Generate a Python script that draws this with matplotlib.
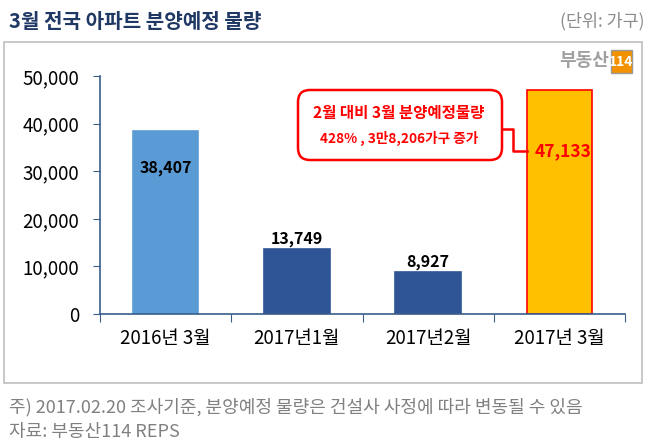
import matplotlib
matplotlib.use("Agg")
import matplotlib.pyplot as plt
from matplotlib.patches import Rectangle, FancyBboxPatch
from matplotlib.lines import Line2D
from matplotlib.transforms import IdentityTransform

plt.rcParams['font.family'] = ['Noto Sans CJK KR', 'DejaVu Sans']

categories = ["2016년 3월", "2017년1월", "2017년2월", "2017년 3월"]
values = [38407, 13749, 8927, 47133]
bar_colors = ["#5B9BD5", "#2F5597", "#2F5597", "#FFC000"]
edge_colors = ["#5B9BD5", "#2F5597", "#2F5597", "#FF0000"]
yticks = [0, 10000, 20000, 30000, 40000, 50000]

W, H = 658, 443
fig = plt.figure(figsize=(W / 100, H / 100), dpi=100)
fig.patch.set_facecolor("white")

def fx(x):
    return x / W

def fy(y):
    return 1 - y / H

# outer frame
fig.add_artist(Rectangle((fx(4), fy(383)), fx(642) - fx(4), fy(42) - fy(383),
                         transform=fig.transFigure, fill=False,
                         edgecolor="#BFBFBF", lw=1.2))

ax = fig.add_axes([fx(100), fy(314), fx(625) - fx(100), fy(76) - fy(314)])
x = list(range(len(categories)))
bars = ax.bar(x, values, width=0.5, color=bar_colors, edgecolor=edge_colors, linewidth=1.2)
ax.set_xlim(-0.5, len(categories) - 0.5)
ax.set_ylim(0, 50000)
ax.set_yticks(yticks)
ax.set_yticklabels([f"{v:,}" for v in yticks], fontsize=13.5)
ax.set_xticks([i - 0.5 for i in range(len(categories) + 1)])
ax.set_xticklabels([])
ax.set_xticks(x, minor=True)
ax.set_xticklabels(categories, minor=True, fontsize=13.5)
ax.tick_params(axis="x", which="minor", length=0, pad=10)
ax.tick_params(axis="x", which="major", length=6, color="#385D8A", direction="out")
ax.tick_params(axis="y", length=5, color="#385D8A", pad=10)
for s in ["top", "right"]:
    ax.spines[s].set_visible(False)
for s in ["left", "bottom"]:
    ax.spines[s].set_color("#385D8A")
    ax.spines[s].set_linewidth(1.2)

# value labels
ax.text(0, values[0] * 0.80, f"{values[0]:,}", ha="center", va="center",
        fontsize=11.5, fontweight="bold", color="black")
for i in (1, 2):
    ax.text(i, values[i] + 400, f"{values[i]:,}", ha="center", va="bottom",
            fontsize=11.5, fontweight="bold", color="black")
ax.text(3.03, values[3] * 0.725, f"{values[3]:,}", ha="center", va="center",
        fontsize=12.5, fontweight="bold", color="#FF0000")

# callout box
def dp(xp, yp):
    return (xp, H - yp)

box = FancyBboxPatch(dp(298, 160), 502 - 298, 160 - 90,
                     boxstyle="round,pad=0,rounding_size=12",
                     transform=IdentityTransform(), facecolor="white",
                     edgecolor="#FF0000", lw=1.8)
fig.add_artist(box)
xs = [502, 513, 513, 527]
ys = [129, 129, 151, 151]
fig.add_artist(Line2D([fx(v) for v in xs], [fy(v) for v in ys],
                      transform=fig.transFigure, color="#FF0000", lw=1.8))
fig.text(fx(399), fy(113), "2월 대비 3월 분양예정물량", ha="center", va="center",
         fontsize=11.2, fontweight="bold", color="#FF0000")
fig.text(fx(399), fy(138), "428% , 3만8,206가구 증가", ha="center", va="center",
         fontsize=9.8, fontweight="bold", color="#FF0000")

# title
fig.text(fx(9), fy(21), "3월 전국 아파트 분양예정 물량", ha="left", va="center",
         fontsize=14.5, fontweight="bold", color="#1F3864")
fig.text(fx(645), fy(21), "(단위: 가구)", ha="right", va="center",
         fontsize=12.5, color="#8C8C8C")

# logo
fig.text(fx(609), fy(61), "부동산", ha="right", va="center",
         fontsize=13, fontweight="bold", color="#A0A0A0")
fig.add_artist(Rectangle((fx(611), fy(73)), fx(632) - fx(611), fy(50) - fy(73),
                         transform=fig.transFigure, facecolor="#F39200",
                         edgecolor="#9A9A9A", lw=1))
fig.text(fx(621.5), fy(61.5), "114", ha="center", va="center",
         fontsize=10, fontweight="bold", color="white")

# footer
fig.text(fx(9), fy(407), "주) 2017.02.20 조사기준, 분양예정 물량은 건설사 사정에 따라 변동될 수 있음",
         ha="left", va="center", fontsize=13, color="#808080")
fig.text(fx(9), fy(432), "자료: 부동산114 REPS", ha="left", va="center",
         fontsize=13, color="#808080")

fig.savefig("out.png", dpi=100, facecolor="white")
